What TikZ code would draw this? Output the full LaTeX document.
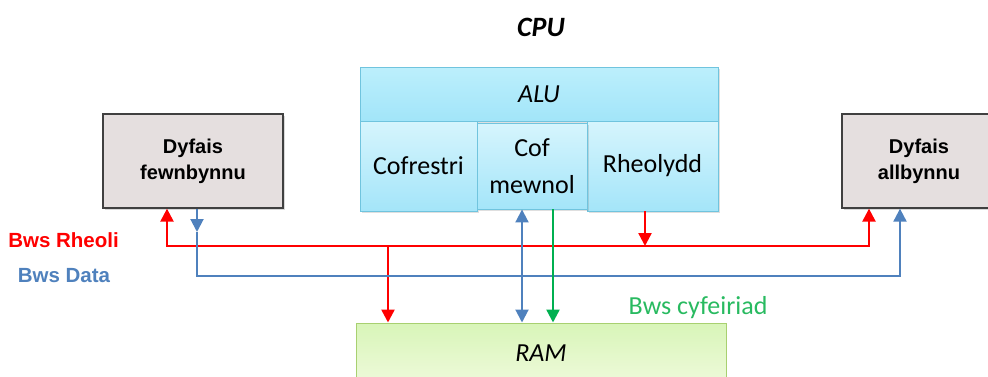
\documentclass[tikz,border=0pt]{standalone}
\usepackage{fontspec}
\setmainfont{Carlito}
\newfontfamily\arialfont{Liberation Sans}
\usetikzlibrary{arrows.meta,shadows}

\definecolor{cellfillA}{RGB}{214,245,253}
\definecolor{cellfillB}{RGB}{164,229,249}
\definecolor{aluA}{RGB}{188,239,252}
\definecolor{aluB}{RGB}{162,229,249}
\definecolor{cellline}{RGB}{112,196,222}
\definecolor{devfill}{RGB}{229,223,223}
\definecolor{devline}{RGB}{64,64,64}
\definecolor{ramA}{RGB}{216,245,184}
\definecolor{ramB}{RGB}{238,250,218}
\definecolor{ramline}{RGB}{168,208,112}
\definecolor{busred}{RGB}{255,0,0}
\definecolor{busblue}{RGB}{79,129,189}
\definecolor{busgreen}{RGB}{0,176,80}
\definecolor{textgreen}{RGB}{40,186,96}

\tikzset{
  px/.style={x=1pt,y=1pt},
  cell/.style={draw=cellline, line width=0.9pt, top color=cellfillA, bottom color=cellfillB,
    inner sep=0pt, align=center, font=\fontsize{26}{37}\selectfont,
    drop shadow={shadow xshift=1.5pt, shadow yshift=-1.5pt, opacity=0.25}},
  alubox/.style={cell, top color=aluA, bottom color=aluB},
  device/.style={draw=devline, line width=1.3pt, fill=devfill, inner sep=0pt, align=center,
    font=\arialfont\bfseries\fontsize{20}{26}\selectfont,
    drop shadow={shadow xshift=2pt, shadow yshift=-2pt, opacity=0.3}},
  rambox/.style={draw=ramline, line width=1pt, top color=ramA, bottom color=ramB,
    inner sep=0pt, font=\itshape\fontsize{26}{31}\selectfont},
  head/.tip={Triangle[length=13pt,width=13pt]},
  tip/.style={-head},
  twotips/.style={head-head},
  redbus/.style={draw=busred, line width=2.4pt},
  bluebus/.style={draw=busblue, line width=2pt},
  greenbus/.style={draw=busgreen, line width=2.4pt},
  buslabel/.style={font=\arialfont\bfseries\fontsize{20.5}{24}\selectfont, inner sep=0pt},
}

\begin{document}
\begin{tikzpicture}[px]
  \useasboundingbox (0,0) rectangle (988,-376);
  \clip (0,0) rectangle (988,-376);

  % title
  \node (cpu) at (541,-27) {\bfseries\itshape\fontsize{28}{32}\selectfont CPU};

  % processor blocks
  \node[alubox, minimum width=358pt, minimum height=54pt] (alu) at (539,-94) {\itshape ALU};
  \node[cell, minimum width=117pt, minimum height=90pt] (cof) at (418.5,-166) {Cofrestri};
  \node[cell, minimum width=131pt, minimum height=90pt] (rhe) at (652.5,-166) {Rheolydd};
  \node[cell, minimum width=110pt, minimum height=86pt] (mew) at (532,-166) {Cof\\mewnol};

  % peripheral devices
  \node[device, minimum width=180pt, minimum height=94pt] (in) at (193,-161) {Dyfais\\fewnbynnu};
  \node[device, minimum width=154pt, minimum height=94pt] (out) at (919,-161) {Dyfais\\allbynnu};

  % main memory
  \node[rambox, minimum width=370pt, minimum height=60pt] (ram) at (541,-353) {RAM};

  % bus routing points
  \coordinate (rL) at (167,-246);
  \coordinate (rR) at (869,-246);
  \coordinate (rRam) at (388,-246);
  \coordinate (rRh) at (645,-246);
  \coordinate (bL) at (197,-276);
  \coordinate (bR) at (900,-276);
  \coordinate (bTip) at (197,-232);
  \coordinate (xd) at (522,0);
  \coordinate (xa) at (553,0);

  % control bus
  \draw[redbus, twotips] (in.south -| rL) -- (rL) -- (rR) -- (out.south -| rR);
  \draw[redbus, tip] (rRh |- rhe.south) -- (rRh);
  \draw[redbus, tip] (rRam) -- (rRam |- ram.north);

  % data bus
  \draw[bluebus, tip] (in.south -| bL) -- (bTip);
  \draw[bluebus, tip] (bTip) -- (bL) -- (bR) -- (out.south -| bR);
  \draw[bluebus, twotips] (mew.south -| xd) -- (ram.north -| xd);

  % address bus
  \draw[greenbus, tip] (mew.south -| xa) -- (ram.north -| xa);

  % bus labels
  \node[buslabel, text=busred] (lrheoli) at (63.5,-240) {Bws Rheoli};
  \node[buslabel, text=busblue] (ldata) at (64,-276) {Bws Data};
  \node[inner sep=0pt, text=textgreen, font=\fontsize{26}{31}\selectfont] (lcyf) at (698,-308) {Bws cyfeiriad};
\end{tikzpicture}
\end{document}
